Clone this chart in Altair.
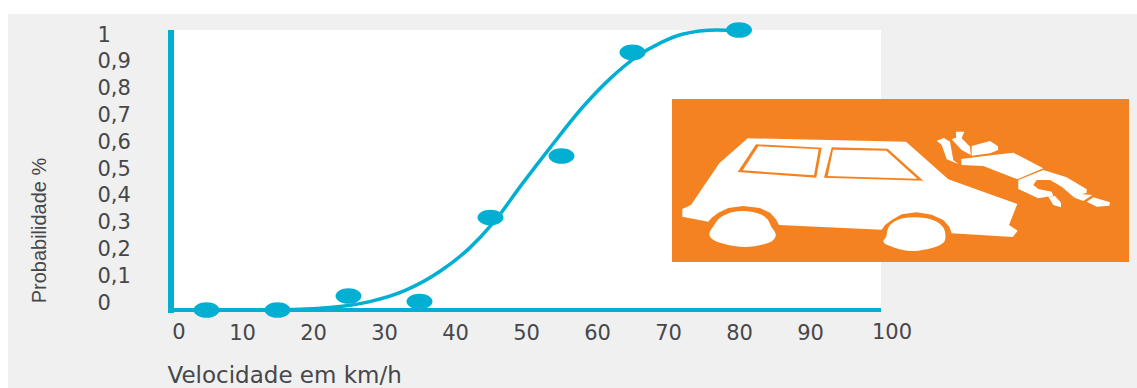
import altair as alt
import pandas as pd

# Measured risk per impact speed
speed = [5, 15, 25, 35, 45, 55, 65, 80]
probability = [0.0, 0.0, 0.05, 0.03, 0.33, 0.55, 0.92, 1.0]

# Fitted trend through the measurements
curve_speed = [15, 22, 28, 33, 38, 42, 45.4, 49.6, 53.4, 58, 62, 65.6, 69, 72, 76.9, 80]
curve_prob = [0.0, 0.008, 0.03, 0.07, 0.14, 0.22, 0.312, 0.455, 0.58, 0.725, 0.83, 0.905, 0.955, 0.985, 1.0, 0.996]

x_ticks = [10, 20, 30, 40, 50, 60, 70, 80, 90]
y_ticks = [0, 0.1, 0.2, 0.3, 0.4, 0.5, 0.6, 0.7, 0.8, 0.9, 1]

BLUE = "#00afd1"
ORANGE = "#f58220"
GRAY = "#f0f0f0"
INK = "#47474a"
W, H = 710, 280
FONT = "DejaVu Sans"

# Icon outlines, in units of a 3x drawing grid
car_body = [(263,145),(738,155),(865,268),(1072,342),(1047,405),(1073,422),(1058,441),(875,430),
            (868,410),(850,390),(815,374),(770,367),(725,373),(695,390),(675,405),(665,419),
            (357,405),(348,388),(330,368),(300,354),(250,348),(205,354),(175,368),(155,383),(145,395),
            (67,380),(67,357),(93,345),(178,220)]
rear_window = [(288,163),(485,173),(469,263),(233,246)]
rear_glass = [(295,169),(476,178),(462,256),(248,241)]
front_window = [(515,172),(683,176),(790,272),(492,263)]
front_glass = [(519,179),(679,182),(772,266),(503,258)]
rear_wheel = [(160,410),(175,385),(210,366),(255,362),(300,370),(325,388),(333,412),(350,430),
              (342,452),(310,465),(255,473),(200,465),(155,450),(145,430)]
front_wheel = [(680,425),(690,402),(720,385),(770,380),(820,388),(852,410),(858,440),(852,462),
               (800,480),(750,485),(700,473),(665,457),(680,440)]
torso = [(903,207),(1000,195),(1060,188),(1150,235),(1072,268),(970,228),(905,225)]
shoulder = [(935,168),(990,153),(1013,168),(1015,180),(990,190),(935,197)]
arm_a = [(830,152),(852,144),(870,155),(880,210),(895,222),(860,208),(845,165)]
arm_b = [(875,148),(888,143),(888,125),(913,125),(905,145),(930,170),(932,195),(905,180)]
legs = [(1075,270),(1150,240),(1220,262),(1280,298),(1280,308),(1240,320),(1205,290),(1170,270),
        (1130,270),(1120,285),(1135,297),(1175,305),(1180,317),(1135,325),(1075,297)]
foot_a = [(1165,320),(1185,318),(1203,338),(1203,352),(1180,345)]
foot_b = [(1240,322),(1260,312),(1297,315),(1270,333)]
shoe = [(1280,335),(1300,322),(1350,337),(1348,347),(1310,350)]


def to_plot(gx, gy):
    return gx / 3 + 660 - 171, gy / 3 + 90 - 30


def outline(*polygons):
    """SVG path in plot pixels for polygons given on the icon grid."""
    parts = []
    for poly in polygons:
        pts = ["{:.1f} {:.1f}".format(*to_plot(gx, gy)) for gx, gy in poly]
        parts.append("M " + " L ".join(pts) + " Z")
    return " ".join(parts)


def rounded(poly):
    """Closed path that rounds a polygon with quadratic curves through edge midpoints."""
    pts = [to_plot(gx, gy) for gx, gy in poly]
    n = len(pts)
    mids = [((pts[i][0] + pts[(i + 1) % n][0]) / 2, (pts[i][1] + pts[(i + 1) % n][1]) / 2) for i in range(n)]
    path = f"M {mids[-1][0]:.1f} {mids[-1][1]:.1f}"
    for i in range(n):
        path += f" Q {pts[i][0]:.1f} {pts[i][1]:.1f} {mids[i][0]:.1f} {mids[i][1]:.1f}"
    return path + " Z"


def icon(path, color):
    # A custom symbol of size 4 draws its path at one unit per pixel
    return alt.Chart(pd.DataFrame({"p": [0]})).mark_point(
        shape=path, size=4, filled=True, fill=color, stroke=None, opacity=1
    ).encode(x=alt.value(0), y=alt.value(0))


def panel(x0, x1, y0, y1, color):
    return alt.Chart(pd.DataFrame({"p": [0]})).mark_rect(color=color).encode(
        x=alt.value(x0), x2=alt.value(x1), y=alt.value(y0), y2=alt.value(y1)
    )


x_scale = alt.Scale(domain=[0, 100], nice=False, zero=False)
y_scale = alt.Scale(domain=[0, 1], nice=False)

points = pd.DataFrame({"speed": speed, "probability": probability})
trend = pd.DataFrame({"speed": curve_speed, "probability": curve_prob})

x_axis = alt.Axis(
    values=x_ticks, domain=False, ticks=False, grid=False, zindex=1,
    labelFont=FONT, labelFontSize=21, labelColor=INK, labelPadding=12,
    labelAngle=0, labelFlush=False, labelOverlap=False,
    title="Velocidade em km/h", titleFont=FONT, titleFontSize=23, titleFontWeight="normal",
    titleColor=INK, titleAlign="left", titleAnchor="start", titleX=-4, titleY=72,
    titleBaseline="alphabetic",
)

trend_line = alt.Chart(trend).mark_line(
    color=BLUE, strokeWidth=3.5, interpolate="monotone", clip=False
).encode(
    x=alt.X("speed:Q", scale=x_scale, axis=x_axis),
    y=alt.Y("probability:Q", scale=y_scale, axis=None),
)

dots = alt.Chart(points).mark_point(
    shape="M -1 0 A 1 0.6 0 1 0 1 0 A 1 0.6 0 1 0 -1 0 Z",
    size=676, filled=True, fill=BLUE, stroke=None, opacity=1, clip=False,
).encode(
    x=alt.X("speed:Q", scale=x_scale),
    y=alt.Y("probability:Q", scale=y_scale, axis=None),
)

y_frame = alt.Chart(pd.DataFrame({"speed": [0]})).mark_rule(color=BLUE, size=6).encode(
    x=alt.X("speed:Q", scale=x_scale), y=alt.value(0), y2=alt.value(H + 3)
)
x_frame = alt.Chart(pd.DataFrame({"probability": [0]})).mark_rule(color=BLUE, size=4).encode(
    y=alt.Y("probability:Q", scale=y_scale, axis=None), x=alt.value(0), x2=alt.value(W)
)

# The printed labels sit on a slightly tighter scale than the marks
y_labels = alt.Chart(pd.DataFrame({"tick": y_ticks})).mark_rule(opacity=0).encode(
    x=alt.value(0),
    x2=alt.value(1),
    y=alt.Y(
        "tick:Q",
        scale=alt.Scale(domain=[0, 1], range=[H - 7, 5], nice=False),
        axis=alt.Axis(
            values=y_ticks, domain=False, ticks=False, grid=False, zindex=1,
            labelExpr="replace(format(datum.value, '~g'), '.', ',')",
            labelFont=FONT, labelFontSize=21, labelColor=INK, labelPadding=74,
            labelAlign="left", labelOverlap=False, labelFlush=False,
            labelBound=False,
            title="Probabilidade %", titleFont="Liberation Sans", titleFontSize=20,
            titleFontWeight="normal", titleColor=INK, titleX=-122, titleY=200,
            titleAngle=270, titleAlign="center",
        ),
    ),
)


def end_label(value, text, shift):
    return alt.Chart(pd.DataFrame({"speed": [value], "label": [text]})).mark_text(
        font=FONT, fontSize=21, color=INK, dx=shift, baseline="middle"
    ).encode(x=alt.X("speed:Q", scale=x_scale), y=alt.value(H + 23), text="label:N")


chart = alt.layer(
    panel(-163, 966, -16, 358, GRAY),
    panel(0, W, 0, H, "#ffffff"),
    y_labels,
    trend_line,
    dots,
    y_frame,
    x_frame,
    end_label(0, "0", 8),
    end_label(100, "100", 11),
    panel(501, 958, 69, 232, ORANGE),
    icon(outline(car_body, torso, shoulder, arm_a, arm_b, legs, foot_a, foot_b, shoe), "#ffffff"),
    icon(rounded(rear_wheel) + " " + rounded(front_wheel), "#ffffff"),
    icon(outline(rear_window, front_window), ORANGE),
    icon(outline(rear_glass, front_glass), "#ffffff"),
).resolve_scale(y="independent").properties(
    width=W, height=H,
    padding={"left": 8, "top": 14, "right": 0, "bottom": 0},
).configure_view(stroke=None)

chart.save("out.html", embed_options={"renderer": "svg", "actions": False})
